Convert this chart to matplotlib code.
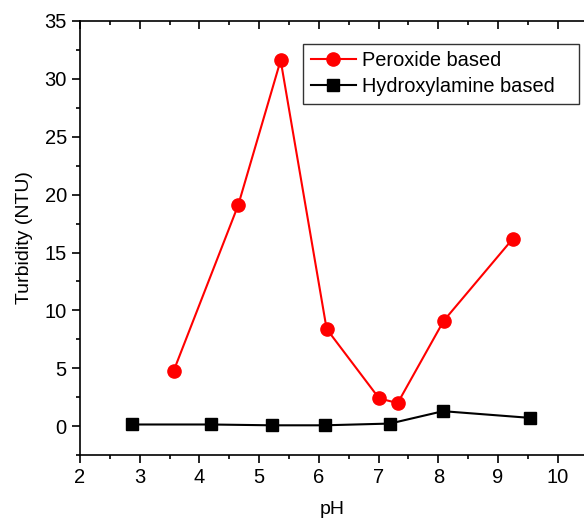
import matplotlib
matplotlib.use('Agg')
import matplotlib.pyplot as plt
from matplotlib.ticker import MultipleLocator

plt.rcParams['font.family'] = ['Liberation Sans', 'DejaVu Sans']

# red series: peroxide based
ph_perox = [3.57, 4.65, 5.36, 6.13, 7.01, 7.32, 8.09, 9.25]
turb_perox = [4.8, 19.1, 31.6, 8.4, 2.4, 2.0, 9.1, 16.2]

# black series: hydroxylamine based
ph_hydrox = [2.87, 4.19, 5.21, 6.10, 7.19, 8.08, 9.54]
turb_hydrox = [0.15, 0.15, 0.08, 0.08, 0.23, 1.3, 0.72]

fig = plt.figure(figsize=(5.84, 5.22), dpi=100)
ax = fig.add_axes([0.137, 0.128, 0.863, 0.832])

ax.plot(ph_perox, turb_perox, color='red', marker='o', markersize=9.5,
        linewidth=1.5, label='Peroxide based')
ax.plot(ph_hydrox, turb_hydrox, color='black', marker='s', markersize=8.5,
        linewidth=1.5, label='Hydroxylamine based')

ax.set_xlim(2, 10.44)
ax.set_ylim(-2.5, 35)
ax.xaxis.set_major_locator(MultipleLocator(1))
ax.xaxis.set_minor_locator(MultipleLocator(0.5))
ax.yaxis.set_major_locator(MultipleLocator(5))
ax.yaxis.set_minor_locator(MultipleLocator(2.5))

ax.spines['right'].set_visible(False)
for s in ['left', 'bottom', 'top']:
    ax.spines[s].set_linewidth(1.2)

ax.tick_params(which='both', direction='out', width=1.2, labelsize=14.5)
ax.tick_params(which='major', length=6)
ax.tick_params(which='minor', length=3)
ax.tick_params(axis='x', which='both', top=True)
ax.tick_params(axis='y', which='both', right=False)
# top ticks point into the plot
for t in ax.xaxis.get_major_ticks():
    t.tick2line.set_marker(matplotlib.lines.TICKDOWN)
for t in ax.xaxis.get_minor_ticks():
    t.tick2line.set_marker(matplotlib.lines.TICKDOWN)

ax.set_xlabel('pH', fontsize=14, labelpad=10)
ax.set_ylabel('Turbidity (NTU)', fontsize=14, labelpad=8)

# legend box stretched to the width used in the original
leg = ax.legend(loc='upper left', bbox_to_anchor=(0.443, 0.5, 0.547, 0.447),
                mode='expand', fontsize=14.4,
                frameon=True, fancybox=False, edgecolor='black',
                handlelength=2.25, borderpad=0.37, labelspacing=0.35,
                handletextpad=0.3, borderaxespad=0)
leg.get_frame().set_linewidth(1.0)

fig.savefig('out.png', dpi=100)
